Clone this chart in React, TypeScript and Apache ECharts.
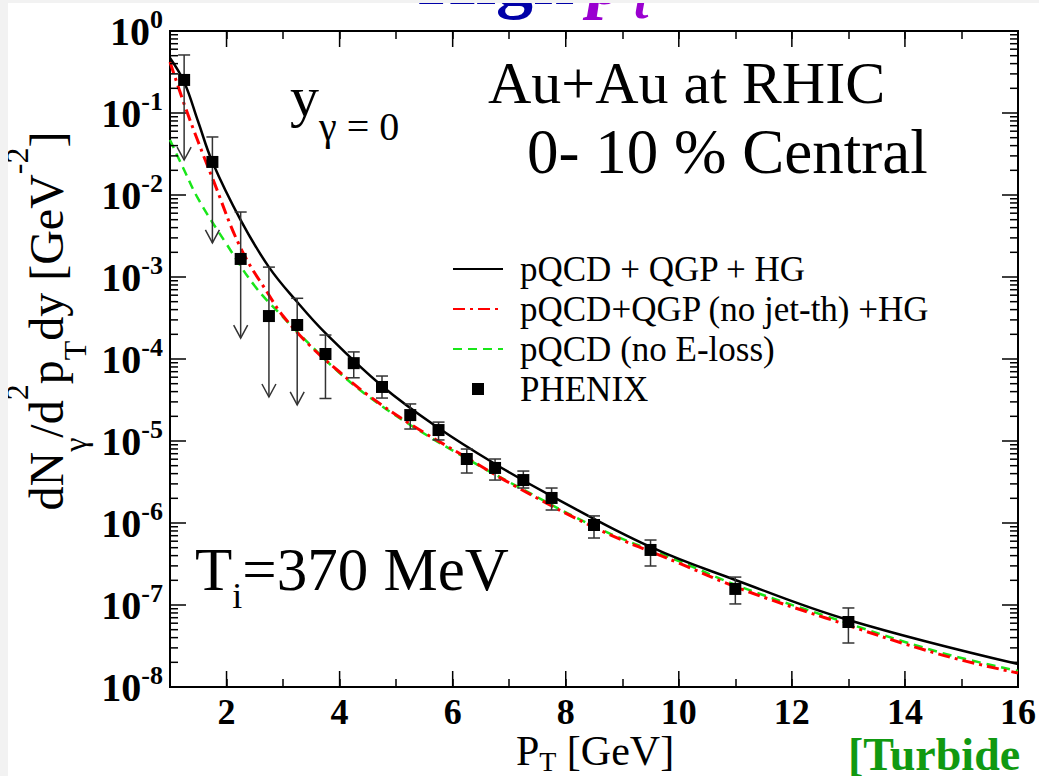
import React, { useEffect, useRef } from "react";
import * as echarts from "echarts";

const FONT = '"Liberation Serif", "Times New Roman", serif';

// ---- data ----
const blackX = [1.0, 1.25, 1.5, 1.75, 2.25, 2.75, 3.25, 3.75, 4.75, 5.75, 6.75, 7.75, 9.5, 11, 13, 16];
const blackY = [0.469, 0.239, 0.0777, 0.0253, 4.95e-3, 1.32e-3, 4.96e-4, 2.07e-4, 4.69e-5, 1.44e-5, 5.25e-6, 2.13e-6, 5.1e-7, 2.02e-7, 6.56e-8, 1.9e-8];

const redX = [1.0, 1.25, 1.5, 1.75, 2.25, 2.75, 3.0, 3.5, 4.0, 4.5, 5.25, 6.2, 7.1, 8.6, 10, 11.1, 12.6, 14.6, 16];
const redY = [0.419, 0.129, 0.0443, 0.0161, 2.26e-3, 6.03e-4, 3.34e-4, 1.4e-4, 6.94e-5, 3.64e-5, 1.61e-5, 6.56e-6, 2.83e-6, 8.22e-7, 3.25e-7, 1.57e-7, 6.94e-8, 2.52e-8, 1.48e-8];

const greenX = [1.0, 1.25, 1.5, 2.0, 2.5, 3.0, 3.5, 4.0, 4.5, 5.25, 6.2, 7.1, 8.6, 10, 11.1, 12.6, 14.6, 16];
const greenY = [0.0469, 0.0202, 8.94e-3, 2.52e-3, 7.76e-4, 3.25e-4, 1.44e-4, 6.75e-5, 3.54e-5, 1.57e-5, 6.38e-6, 2.9e-6, 8.45e-7, 3.44e-7, 1.66e-7, 7.34e-8, 2.67e-8, 1.57e-8];

const phenixX = [1.25, 1.75, 2.25, 2.75, 3.25, 3.75, 4.25, 4.75, 5.25, 5.75, 6.25, 6.75, 7.25, 7.75, 8.5, 9.5, 11, 13];
const phenixY = [0.253, 0.0253, 1.66e-3, 3.34e-4, 2.6e-4, 1.15e-4, 8.9e-5, 4.56e-5, 2.07e-5, 1.36e-5, 6.03e-6, 4.69e-6, 3.34e-6, 2.02e-6, 9.46e-7, 4.69e-7, 1.57e-7, 6.2e-8];
const phenixHi = [0.51, 0.051, 6.2e-3, 1.32e-3, 5.5e-4, 1.96e-4, 1.22e-4, 6.2e-5, 2.83e-5, 1.7e-5, 7.98e-6, 6.03e-6, 4.3e-6, 2.67e-6, 1.22e-6, 6.2e-7, 2.19e-7, 9.2e-8];
const phenixLo = [0.0267, 2.6e-3, 1.8e-4, 3.44e-5, 2.75e-5, 3.3e-5, 5.9e-5, 3.34e-5, 1.4e-5, 1.03e-5, 4.07e-6, 3.34e-6, 2.67e-6, 1.44e-6, 6.56e-7, 2.99e-7, 1.03e-7, 3.44e-8];
const phenixUpperLimit = [1, 1, 1, 1, 1, 0, 0, 0, 0, 0, 0, 0, 0, 0, 0, 0, 0, 0];

const seriesNames = ["pQCD + QGP + HG", "pQCD+QGP (no jet-th) +HG", "pQCD (no E-loss)", "PHENIX"];

// axis ranges and tick positions
const X_MIN = 1;
const X_MAX = 16;
const Y_MIN = 1e-8;
const Y_MAX = 1;
const xMajorTicks = [2, 4, 6, 8, 10, 12, 14];
const yDecades = [-8, -7, -6, -5, -4, -3, -2, -1];
const yMinorMultipliers = [2, 3, 4, 5, 6, 7, 8, 9];

export default function App() {
  const ref = useRef<HTMLDivElement>(null);

  useEffect(() => {
    document.body.style.margin = "0";
    document.body.style.background = "#f2f2f2";
    if (!ref.current) return;
    const chart = echarts.init(ref.current, null, { renderer: "svg" });

    const zip = (xs: number[], ys: number[]) => xs.map((x, i) => [x, ys[i]]);

    const tickData: number[][] = [];
    xMajorTicks.forEach((x) => tickData.push([x, Y_MIN, 0]));
    yDecades.forEach((e) =>
      yMinorMultipliers.forEach((m) => tickData.push([X_MIN, m * Math.pow(10, e), 1]))
    );

    const errData = phenixX.map((x, i) => [x, phenixY[i], phenixLo[i], phenixHi[i], phenixUpperLimit[i]]);

    const tickStyle = { stroke: "#000", lineWidth: 1.5 };
    const errStyle = { stroke: "#333", lineWidth: 1.5, fill: "none" };

    const option: any = {
      animation: false,
      backgroundColor: "#ffffff",
      grid: {
        left: 162,
        right: 21,
        top: 28,
        bottom: 89,
        show: true,
        borderColor: "#000",
        borderWidth: 2,
        backgroundColor: "transparent",
      },
      legend: {
        data: [
          { name: seriesNames[0], itemStyle: { opacity: 0 } },
          { name: seriesNames[1], itemStyle: { opacity: 0 } },
          { name: seriesNames[2], itemStyle: { opacity: 0 } },
          { name: seriesNames[3], icon: "path://M0,0 h10 v10 h-10 z" },
        ],
        orient: "vertical",
        left: 439,
        top: 241,
        itemWidth: 50,
        itemHeight: 12,
        itemGap: 0,
        symbolKeepAspect: true,
        selectedMode: false,
        textStyle: {
          fontFamily: FONT,
          fontSize: 35,
          color: "#000",
          lineHeight: 40,
          padding: [0, 0, 0, 12],
        },
      },
      xAxis: [
        {
          type: "value",
          min: X_MIN,
          max: X_MAX,
          interval: 1,
          position: "bottom",
          axisLine: { show: false },
          splitLine: { show: false },
          axisTick: { inside: true, length: 8, lineStyle: { color: "#000", width: 1.5 } },
          axisLabel: {
            formatter: (v: number) => (v % 2 === 0 ? String(v) : ""),
            fontFamily: FONT,
            fontSize: 36,
            fontWeight: "bold",
            color: "#000",
            lineHeight: 30,
            margin: 10,
            showMinLabel: true,
            showMaxLabel: true,
          },
        },
        {
          type: "value",
          min: X_MIN,
          max: X_MAX,
          interval: 1,
          position: "top",
          axisLine: { show: false },
          splitLine: { show: false },
          axisTick: { inside: true, length: 8, lineStyle: { color: "#000", width: 1.5 } },
          axisLabel: { show: false },
        },
      ],
      yAxis: [
        {
          type: "log",
          logBase: 10,
          min: Y_MIN,
          max: Y_MAX,
          splitNumber: 8,
          position: "left",
          axisLine: { show: false },
          splitLine: { show: false },
          axisTick: { inside: true, length: 16, lineStyle: { color: "#000", width: 1.5 } },
          axisLabel: {
            margin: 7,
            showMinLabel: true,
            showMaxLabel: true,
            formatter: (v: number) => `{b|10}{s|${Math.round(Math.log10(v))}}`,
            rich: {
              b: { fontFamily: FONT, fontSize: 40, fontWeight: "bold", color: "#000", lineHeight: 50, verticalAlign: "middle" },
              s: { fontFamily: FONT, fontSize: 26, fontWeight: "bold", color: "#000", lineHeight: 24, verticalAlign: "top" },
            },
          },
        },
        {
          type: "log",
          logBase: 10,
          min: Y_MIN,
          max: Y_MAX,
          splitNumber: 8,
          position: "right",
          axisLine: { show: false },
          splitLine: { show: false },
          axisTick: { inside: true, length: 16, lineStyle: { color: "#000", width: 1.5 } },
          axisLabel: { show: false },
        },
      ],
      series: [
        {
          type: "custom",
          name: "ticks",
          coordinateSystem: "cartesian2d",
          xAxisIndex: 0,
          yAxisIndex: 0,
          silent: true,
          clip: false,
          z: 5,
          data: tickData,
          renderItem: (_p: any, api: any) => {
            const kind = api.value(2);
            if (kind === 0) {
              const x = api.value(0);
              const b = api.coord([x, Y_MIN]);
              const t = api.coord([x, Y_MAX]);
              return {
                type: "group",
                children: [
                  { type: "line", shape: { x1: b[0], y1: b[1], x2: b[0], y2: b[1] - 16 }, style: tickStyle },
                  { type: "line", shape: { x1: t[0], y1: t[1], x2: t[0], y2: t[1] + 16 }, style: tickStyle },
                ],
              };
            }
            const v = api.value(1);
            const l = api.coord([X_MIN, v]);
            const r = api.coord([X_MAX, v]);
            return {
              type: "group",
              children: [
                { type: "line", shape: { x1: l[0], y1: l[1], x2: l[0] + 8, y2: l[1] }, style: tickStyle },
                { type: "line", shape: { x1: r[0], y1: r[1], x2: r[0] - 8, y2: r[1] }, style: tickStyle },
              ],
            };
          },
        },
        {
          name: seriesNames[2],
          type: "line",
          data: zip(greenX, greenY),
          symbol: "none",
          showSymbol: false,
          smooth: 0.4,
          z: 2,
          itemStyle: { color: "#19e619" },
          lineStyle: { color: "#19e619", width: 2.5, type: [9, 6] },
        },
        {
          name: seriesNames[1],
          type: "line",
          data: zip(redX, redY),
          symbol: "none",
          showSymbol: false,
          smooth: 0.4,
          z: 3,
          itemStyle: { color: "#ff0000" },
          lineStyle: { color: "#ff0000", width: 3, type: [12, 5, 3, 5] },
        },
        {
          name: seriesNames[0],
          type: "line",
          data: zip(blackX, blackY),
          symbol: "none",
          showSymbol: false,
          smooth: 0.4,
          z: 4,
          itemStyle: { color: "#000" },
          lineStyle: { color: "#000", width: 2.5 },
        },
        {
          type: "custom",
          name: "errors",
          coordinateSystem: "cartesian2d",
          silent: true,
          clip: false,
          z: 6,
          data: errData,
          encode: { x: 0, y: 1 },
          renderItem: (_p: any, api: any) => {
            const x = api.value(0);
            const lo = api.value(2);
            const hi = api.value(3);
            const lim = api.value(4);
            const top = api.coord([x, hi]);
            const bot = api.coord([x, lo]);
            const cx = top[0];
            const children: any[] = [
              { type: "line", shape: { x1: cx, y1: top[1], x2: cx, y2: bot[1] }, style: errStyle },
              { type: "line", shape: { x1: cx - 6, y1: top[1], x2: cx + 6, y2: top[1] }, style: errStyle },
            ];
            if (lim) {
              children.push({
                type: "polyline",
                shape: { points: [[cx - 7, bot[1] - 13], [cx, bot[1]], [cx + 7, bot[1] - 13]] },
                style: errStyle,
              });
            } else {
              children.push({ type: "line", shape: { x1: cx - 6, y1: bot[1], x2: cx + 6, y2: bot[1] }, style: errStyle });
            }
            return { type: "group", children };
          },
        },
        {
          name: seriesNames[3],
          type: "scatter",
          data: zip(phenixX, phenixY),
          symbol: "rect",
          symbolSize: 12,
          z: 7,
          itemStyle: { color: "#000", opacity: 1 },
        },
      ],
      graphic: [
        { type: "text", x: 410, y: -24, style: { text: "High", font: `bold 74px ${FONT}`, fill: "#0000a8", align: "left", verticalAlign: "middle" } },
        { type: "text", x: 580, y: -24, style: { text: "p", font: `italic bold 74px ${FONT}`, fill: "#9a00d0", align: "left", verticalAlign: "middle" } },
        { type: "text", x: 626, y: -3, style: { text: "t", font: `italic bold 52px ${FONT}`, fill: "#9a00d0", align: "left", verticalAlign: "middle" } },
        {
          type: "text",
          x: 282,
          y: 93,
          style: {
            text: "{m|y}{s|γ = 0}",
            align: "left",
            verticalAlign: "middle",
            rich: {
              m: { fontFamily: FONT, fontSize: 58, lineHeight: 100, verticalAlign: "middle", fill: "#000" },
              s: { fontFamily: FONT, fontSize: 40, lineHeight: 40, verticalAlign: "bottom", fill: "#000" },
            },
          },
        },
        { type: "text", x: 480, y: 80, style: { text: "Au+Au at RHIC", font: `60px ${FONT}`, fill: "#000", align: "left", verticalAlign: "middle" } },
        { type: "text", x: 519, y: 149, style: { text: "0- 10 % Central", font: `63px ${FONT}`, fill: "#000", align: "left", verticalAlign: "middle" } },
        {
          type: "text",
          x: 187,
          y: 566,
          style: {
            text: "{m|T}{s|i}{m|=370 MeV}",
            align: "left",
            verticalAlign: "middle",
            rich: {
              m: { fontFamily: FONT, fontSize: 61, lineHeight: 90, verticalAlign: "middle", fill: "#000" },
              s: { fontFamily: FONT, fontSize: 36, lineHeight: 36, verticalAlign: "bottom", fill: "#000" },
            },
          },
        },
        {
          type: "text",
          x: 38,
          y: 318,
          rotation: Math.PI / 2,
          style: {
            text: "{m|dN}{sb|γ}{m|/d}{sp|2}{m|p}{sb|T}{m|dy [GeV}{sp|-2}{m|]}",
            align: "center",
            verticalAlign: "middle",
            rich: {
              m: { fontFamily: FONT, fontSize: 48, lineHeight: 90, verticalAlign: "middle", fill: "#000" },
              sp: { fontFamily: FONT, fontSize: 32, lineHeight: 32, verticalAlign: "top", fill: "#000" },
              sb: { fontFamily: FONT, fontSize: 32, lineHeight: 64, verticalAlign: "bottom", fill: "#000" },
            },
          },
        },
        {
          type: "text",
          x: 587,
          y: 748,
          style: {
            text: "{m|P}{s|T}{m| [GeV]}",
            align: "center",
            verticalAlign: "middle",
            rich: {
              m: { fontFamily: FONT, fontSize: 42, lineHeight: 48, verticalAlign: "middle", fill: "#000" },
              s: { fontFamily: FONT, fontSize: 28, lineHeight: 28, verticalAlign: "bottom", fill: "#000" },
            },
          },
        },
        { type: "text", x: 840, y: 751, style: { text: "[Turbide", font: `bold 46px ${FONT}`, fill: "#119911", align: "left", verticalAlign: "middle" } },
      ],
    };

    chart.setOption(option);
    return () => chart.dispose();
  }, []);

  return (
    <div
      ref={ref}
      style={{ position: "absolute", left: 8, top: 3, width: 1031, height: 773, background: "#ffffff" }}
    />
  );
}
